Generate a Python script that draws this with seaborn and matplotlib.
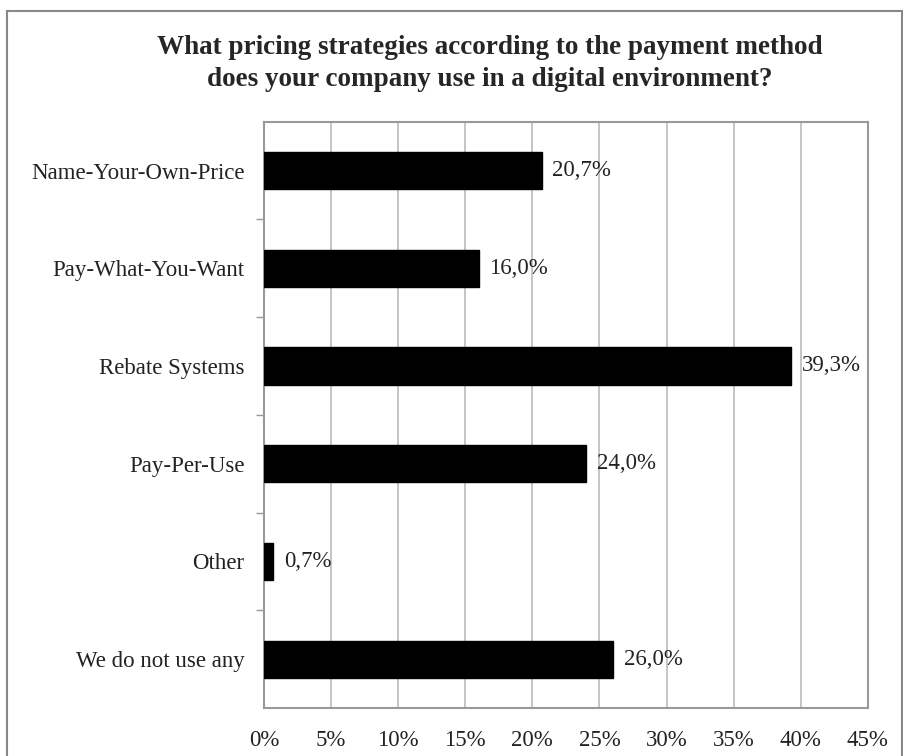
import numpy as np
import pandas as pd
import seaborn as sns
import matplotlib.pyplot as plt
from matplotlib.patches import Rectangle

categories = ["Name-Your-Own-Price", "Pay-What-You-Want", "Rebate Systems",
              "Pay-Per-Use", "Other", "We do not use any"]
values = [20.7, 16.0, 39.3, 24.0, 0.7, 26.0]
x_ticks = [0, 5, 10, 15, 20, 25, 30, 35, 40, 45]
title = ("What pricing strategies according to the payment method\n"
         "does your company use in a digital environment?")

sns.set_theme(style="white")
plt.rcParams["font.family"] = ["Liberation Serif", "DejaVu Serif"]

df = pd.DataFrame({"strategy": categories, "share": values})

fig = plt.figure(figsize=(9.04, 7.56), dpi=100)
ax = fig.add_axes([0.292, 0.0635, 0.668, 0.7755])

sns.barplot(data=df, x="share", y="strategy", orient="h", color="black",
            width=0.38, saturation=1, edgecolor="black", ax=ax, zorder=3)

ax.set_xlim(0, 45)
ax.set_ylim(len(categories) - 0.5, -0.5)
ax.set_xticks(x_ticks)
ax.set_xticklabels([f"{t}%" for t in x_ticks], fontsize=16.5, color="#222222")
ax.set_yticks(range(len(categories)))
ax.set_yticklabels(categories, fontsize=16.5, color="#222222")
ax.set_yticks(np.arange(0.5, len(categories) - 0.5, 1), minor=True)
ax.tick_params(axis="y", which="major", length=0, pad=14)
ax.tick_params(axis="y", which="minor", left=True, length=6, color="#999999", width=1)
ax.tick_params(axis="x", length=0, pad=16)
ax.set_xlabel("")
ax.set_ylabel("")

ax.xaxis.grid(True, color="#bbbbbb", linewidth=1.2, zorder=0)
ax.set_axisbelow(True)
for s in ax.spines.values():
    s.set_visible(True)
    s.set_color("#999999")
    s.set_linewidth(1.5)

for i, v in enumerate(values):
    ax.text(v + 0.8, i, f"{v:.1f}%".replace(".", ","), va="center", ha="left",
            fontsize=16.5, color="#222222")

fig.text(0.542, 0.916, title, ha="center", va="center", fontsize=19.5,
         fontweight="bold", linespacing=1.38)

fig.patches.append(Rectangle((0.008, -0.01), 0.99, 0.995, transform=fig.transFigure,
                             fill=False, edgecolor="#888888", linewidth=1.5))

fig.savefig("out.png", dpi=100)
